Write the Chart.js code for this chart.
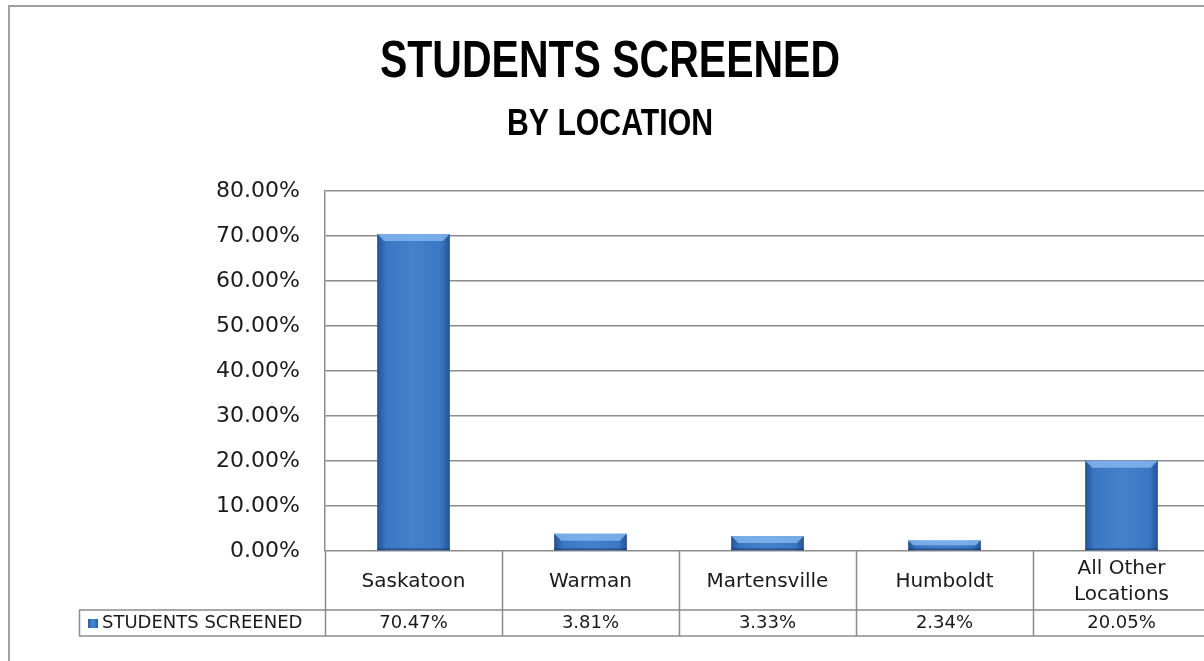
<!DOCTYPE html>
<html>
<head>
<meta charset="utf-8">
<script src="https://cdn.jsdelivr.net/npm/chart.js@4.4.1/dist/chart.umd.min.js"></script>
<style>
  html, body { margin: 0; padding: 0; background: #fff; overflow: hidden; }
  #grafico { display: block; }
</style>
</head>
<body>
<canvas id="grafico" width="1216" height="661"></canvas>
<script>
const categorias = ['Saskatoon', 'Warman', 'Martensville', 'Humboldt', ['All Other', 'Locations']];
const valores = [70.47, 3.81, 3.33, 2.34, 20.05];
const rotuloSerie = 'STUDENTS SCREENED';
const titulo = 'STUDENTS SCREENED';
const subtitulo = 'BY LOCATION';
const ticksY = [0, 10, 20, 30, 40, 50, 60, 70, 80];

const cinza = '#8c8c8c';
const fonte = "'DejaVu Sans', sans-serif";
const fonteTitulo = "'Liberation Sans', Arial, sans-serif";

// borda externa, titulos (condensados) e tabela de dados abaixo do eixo x
const tabela = {
    id: 'tabela',
    beforeDraw(chart) {
        const c = chart.ctx;
        c.save();
        c.strokeStyle = '#a0a0a0';
        c.lineWidth = 2;
        c.beginPath();
        c.moveTo(9, 700);
        c.lineTo(9, 6);
        c.lineTo(1300, 6);
        c.stroke();

        c.fillStyle = '#000';
        c.textAlign = 'center';
        c.textBaseline = 'alphabetic';
        c.font = 'bold 52px ' + fonteTitulo;
        c.fillText(titulo, 610, 77, 460);
        c.font = 'bold 37px ' + fonteTitulo;
        c.fillText(subtitulo, 610, 135, 206);
        c.restore();
    },
    afterDatasetsDraw(chart) {
        const c = chart.ctx;
        const meta = chart.getDatasetMeta(0);
        // efeito de bisel nas barras
        meta.data.forEach(bar => {
            const l = bar.x - bar.width / 2, r = bar.x + bar.width / 2;
            const t = bar.y, b = bar.base;
            const bev = Math.min(7, (b - t) / 2);
            c.save();
            const g = c.createLinearGradient(l, 0, r, 0);
            g.addColorStop(0, 'rgba(20,50,100,0.55)');
            g.addColorStop(0.12, 'rgba(20,50,100,0.05)');
            g.addColorStop(0.5, 'rgba(255,255,255,0.05)');
            g.addColorStop(0.88, 'rgba(20,50,100,0.05)');
            g.addColorStop(1, 'rgba(20,50,100,0.55)');
            c.fillStyle = g;
            c.fillRect(l, t, r - l, b - t);
            c.fillStyle = 'rgba(140,190,245,0.75)';
            c.beginPath();
            c.moveTo(l, t);
            c.lineTo(r, t);
            c.lineTo(r - bev, t + bev);
            c.lineTo(l + bev, t + bev);
            c.closePath();
            c.fill();
            c.fillStyle = 'rgba(20,45,90,0.45)';
            c.fillRect(l, b - 2, r - l, 2);
            c.restore();
        });
    },
    afterDraw(chart) {
        const c = chart.ctx;
        const x = chart.scales.x;
        const area = chart.chartArea;
        const topo = area.bottom;
        const meio = topo + 59;
        const fim = topo + 85;
        const esq = 79;
        const n = categorias.length;
        const passo = (x.getPixelForValue(1) - x.getPixelForValue(0));
        c.save();
        c.strokeStyle = cinza;
        c.lineWidth = 1.5;
        c.beginPath();
        for (let i = 0; i <= n; i++) {
            const px = Math.round(x.getPixelForValue(i) - passo / 2) + 0.5;
            c.moveTo(px, topo);
            c.lineTo(px, fim);
        }
        c.moveTo(esq, meio); c.lineTo(area.right + 10, meio);
        c.moveTo(esq, fim); c.lineTo(area.right + 10, fim);
        c.moveTo(esq + 0.5, meio); c.lineTo(esq + 0.5, fim);
        c.stroke();

        c.fillStyle = '#1a1a1a';
        c.textAlign = 'center';
        c.textBaseline = 'middle';
        c.font = '20px ' + fonte;
        categorias.forEach((cat, i) => {
            const px = x.getPixelForValue(i);
            const linhas = Array.isArray(cat) ? cat : [cat];
            const y0 = (topo + meio) / 2 + 1 - (linhas.length - 1) * 13;
            linhas.forEach((ln, j) => c.fillText(ln, px, y0 + j * 26));
        });
        c.font = '18px ' + fonte;
        valores.forEach((v, i) => {
            c.fillText(v.toFixed(2) + '%', x.getPixelForValue(i), (meio + fim) / 2);
        });

        // legenda
        const g = c.createLinearGradient(88, 0, 98, 0);
        g.addColorStop(0, '#2b5d9f');
        g.addColorStop(0.5, '#4a8ad8');
        g.addColorStop(1, '#2b5d9f');
        c.fillStyle = g;
        c.fillRect(88, 619, 10, 9);
        c.fillStyle = '#1a1a1a';
        c.textAlign = 'left';
        c.fillText(rotuloSerie, 102, (meio + fim) / 2);
        c.restore();
    }
};

new Chart(document.getElementById('grafico'), {
    type: 'bar',
    data: {
        labels: categorias,
        datasets: [{
            label: rotuloSerie,
            data: valores,
            backgroundColor: '#3c7ac8',
            borderWidth: 0,
            barPercentage: 0.41,
            categoryPercentage: 1
        }]
    },
    plugins: [tabela],
    options: {
        responsive: false,
        animation: false,
        layout: {
            padding: { left: 0, right: 6, top: 191, bottom: 25 }
        },
        scales: {
            x: {
                grid: { display: false },
                border: { display: false },
                ticks: { display: false },
                afterFit(scale) { scale.height = 85; }
            },
            y: {
                min: 0,
                max: 80,
                afterFit(scale) { scale.width = 325; },
                afterBuildTicks(scale) { scale.ticks = ticksY.map(v => ({ value: v })); },
                ticks: {
                    padding: 25,
                    color: '#1a1a1a',
                    font: { family: fonte, size: 22 },
                    callback: v => v.toFixed(2) + '%'
                },
                grid: { color: cinza, lineWidth: 1.5, drawTicks: false },
                border: { color: cinza, width: 1.5 }
            }
        },
        plugins: {
            legend: { display: false },
            tooltip: { enabled: false },
            title: { display: false },
            subtitle: { display: false }
        }
    }
});
</script>
</body>
</html>
